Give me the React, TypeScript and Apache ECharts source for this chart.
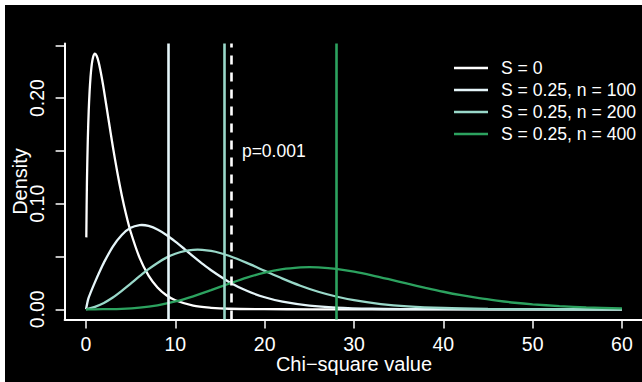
import React, { useEffect, useRef } from "react";
import * as echarts from "echarts";

// S = 0 (central chi-square, 3 df)
const x0 = [0.03, 0.1, 0.2, 0.3, 0.4, 0.5, 0.6, 0.7, 0.8, 0.9, 1.0, 1.2, 1.4, 1.6, 1.8, 2.0, 2.5, 3.0, 3.5, 4, 4.5, 5, 6, 7, 8, 9, 10, 12, 14, 16, 20, 25, 30, 40, 50, 60];
const y0 = [0.0681, 0.12, 0.1614, 0.1881, 0.2066, 0.2197, 0.2289, 0.2352, 0.2392, 0.2413, 0.242, 0.2398, 0.2344, 0.2267, 0.2176, 0.2076, 0.1807, 0.1542, 0.1297, 0.108, 0.0892, 0.0732, 0.0487, 0.0319, 0.0207, 0.0133, 0.0085, 0.0034, 0.0014, 0.0005, 0.0001, 0, 0, 0, 0, 0];

// S = 0.25, n = 100
const x100 = [0, 0.25, 0.5, 1, 1.5, 2, 3, 4, 5, 6, 6.25, 7, 8, 9, 10, 11, 12, 13, 14, 16, 18, 20, 22, 25, 28, 32, 36, 40, 50, 60];
const y100 = [0, 0.0099, 0.0155, 0.0257, 0.0353, 0.0442, 0.0594, 0.0704, 0.0771, 0.0797, 0.0798, 0.0789, 0.0756, 0.0704, 0.0641, 0.0572, 0.0501, 0.0433, 0.0369, 0.0259, 0.0175, 0.0114, 0.0072, 0.0035, 0.0016, 0.0005, 0.0002, 0.0001, 0, 0];

// S = 0.25, n = 200
const x200 = [0, 0.5, 1, 2, 3, 4, 5, 6, 7, 8, 9, 10, 11, 12, 12.5, 13, 14, 15, 16, 18, 20, 22, 24, 26, 28, 30, 33, 36, 40, 45, 50, 60];
const y200 = [0, 0.001, 0.0023, 0.006, 0.0111, 0.0174, 0.0243, 0.0313, 0.038, 0.0439, 0.0489, 0.0526, 0.0551, 0.0563, 0.0564, 0.0563, 0.0552, 0.0533, 0.0507, 0.0439, 0.0364, 0.029, 0.0223, 0.0166, 0.0121, 0.0086, 0.0049, 0.0027, 0.0012, 0.0004, 0.0001, 0];

// S = 0.25, n = 400
const x400 = [0, 1, 2, 4, 6, 8, 10, 12, 14, 16, 18, 20, 22, 24, 25, 26, 28, 30, 32, 34, 36, 38, 40, 42, 44, 46, 48, 50, 53, 56, 60];
const y400 = [0, 0, 0.0001, 0.0004, 0.0015, 0.0038, 0.0074, 0.0123, 0.0181, 0.0242, 0.03, 0.0347, 0.038, 0.0397, 0.0399, 0.0397, 0.0382, 0.0356, 0.0322, 0.0283, 0.0242, 0.0203, 0.0166, 0.0133, 0.0105, 0.0082, 0.0062, 0.0047, 0.003, 0.0018, 0.0009];

// vertical reference lines (means) and critical value
const means = [9.25, 15.5, 28];
const critical = 16.27;
const pLabel = "p=0.001";
const pLabelPos = [17.45, 0.15];

const seriesNames = ["S = 0", "S = 0.25, n = 100", "S = 0.25, n = 200", "S = 0.25, n = 400"];
const colors = ["#ffffff", "#e5f5f9", "#99d8c9", "#2ca25f"];

const xTicks = [0, 10, 20, 30, 40, 50, 60];
const yTicks = [0, 0.05, 0.1, 0.15, 0.2, 0.25];
const yLabels = [0, 0.1, 0.2];

const FONT = "'Liberation Sans', Arial, Helvetica, sans-serif";

function zip(xs: number[], ys: number[]) {
  return xs.map((x, i) => [x, ys[i]]);
}

export default function App() {
  const ref = useRef<HTMLDivElement>(null);
  useEffect(() => {
    if (!ref.current) return;
    const chart = echarts.init(ref.current, undefined, { renderer: "svg" });
    const datasets = [zip(x0, y0), zip(x100, y100), zip(x200, y200), zip(x400, y400)];
    const series: any[] = datasets.map((d, i) => {
      const s: any = {
        name: seriesNames[i],
        type: "line",
        data: d,
        symbol: "none",
        smooth: 0.3,
        lineStyle: { color: colors[i], width: 2.3 },
        itemStyle: { color: colors[i] },
        z: 3,
      };
      if (i > 0) {
        s.markLine = {
          silent: true,
          symbol: "none",
          label: { show: false },
          lineStyle: { color: colors[i], width: 2.6, type: "solid", opacity: 1 },
          emphasis: { disabled: true },
          data: [{ xAxis: means[i - 1] }],
        };
      } else {
        s.markLine = {
          silent: true,
          symbol: "none",
          label: { show: false },
          lineStyle: { color: "#ffffff", width: 2.6, type: [9, 8], opacity: 1 },
          emphasis: { disabled: true },
          data: [{ xAxis: critical }],
        };
      }
      return s;
    });
    series.push({
      name: "p",
      type: "scatter",
      data: [pLabelPos],
      symbolSize: 0,
      itemStyle: { color: "#ffffff", opacity: 1 },
      label: {
        show: true,
        position: "right",
        distance: 0,
        formatter: pLabel,
        color: "#ffffff",
        opacity: 1,
        fontSize: 17.5,
        fontFamily: FONT,
      },
      z: 4,
    });

    chart.setOption({
      animation: false,
      backgroundColor: "#000000",
      textStyle: { fontFamily: FONT },
      grid: { left: 59.6, width: 578.8, top: 38.5, height: 276, containLabel: false, outerBoundsMode: "none" },
      legend: {
        data: seriesNames,
        orient: "vertical",
        left: 444,
        top: 49,
        itemWidth: 34,
        itemHeight: 2.5,
        itemGap: 4,
        icon: "rect",
        textStyle: { color: "#ffffff", fontSize: 17.6, lineHeight: 18, fontFamily: FONT, padding: [0, 0, 0, 8] },
        selectedMode: false,
      },
      xAxis: {
        type: "value",
        min: -2.4,
        max: 62.4,
        name: "Chi\u2212square value",
        nameLocation: "middle",
        nameGap: 34,
        nameMoveOverlap: false,
        nameTextStyle: { color: "#ffffff", fontSize: 20, fontFamily: FONT },
        splitLine: { show: false },
        axisLine: { show: true, onZero: false, lineStyle: { color: "#ffffff", width: 2 } },
        axisTick: { show: true, customValues: xTicks, length: 9, lineStyle: { color: "#ffffff", width: 1.5 } },
        axisLabel: { customValues: xTicks, color: "#ffffff", fontSize: 19.5, fontFamily: FONT, margin: 14 },
      },
      yAxis: {
        type: "value",
        min: -0.00968,
        max: 0.2517,
        name: "Density",
        nameLocation: "middle",
        nameGap: 35,
        nameMoveOverlap: false,
        nameRotate: 90,
        nameTextStyle: { color: "#ffffff", fontSize: 20, fontFamily: FONT },
        splitLine: { show: false },
        axisLine: { show: true, onZero: false, lineStyle: { color: "#ffffff", width: 2 } },
        axisTick: { show: true, customValues: yTicks, length: 9, lineStyle: { color: "#ffffff", width: 1.5 } },
        axisLabel: {
          customValues: yLabels,
          rotate: 90,
          color: "#ffffff",
          fontSize: 19.5,
          fontFamily: FONT,
          margin: 18,
          formatter: (v: number) => v.toFixed(2),
        },
      },
      series,
    });
    return () => chart.dispose();
  }, []);

  return (
    <div style={{ position: "fixed", left: 0, top: 0, width: 642, height: 382, background: "#ffffff" }}>
      <div ref={ref} style={{ position: "absolute", left: 5, top: 5, width: 637, height: 377 }} />
    </div>
  );
}
